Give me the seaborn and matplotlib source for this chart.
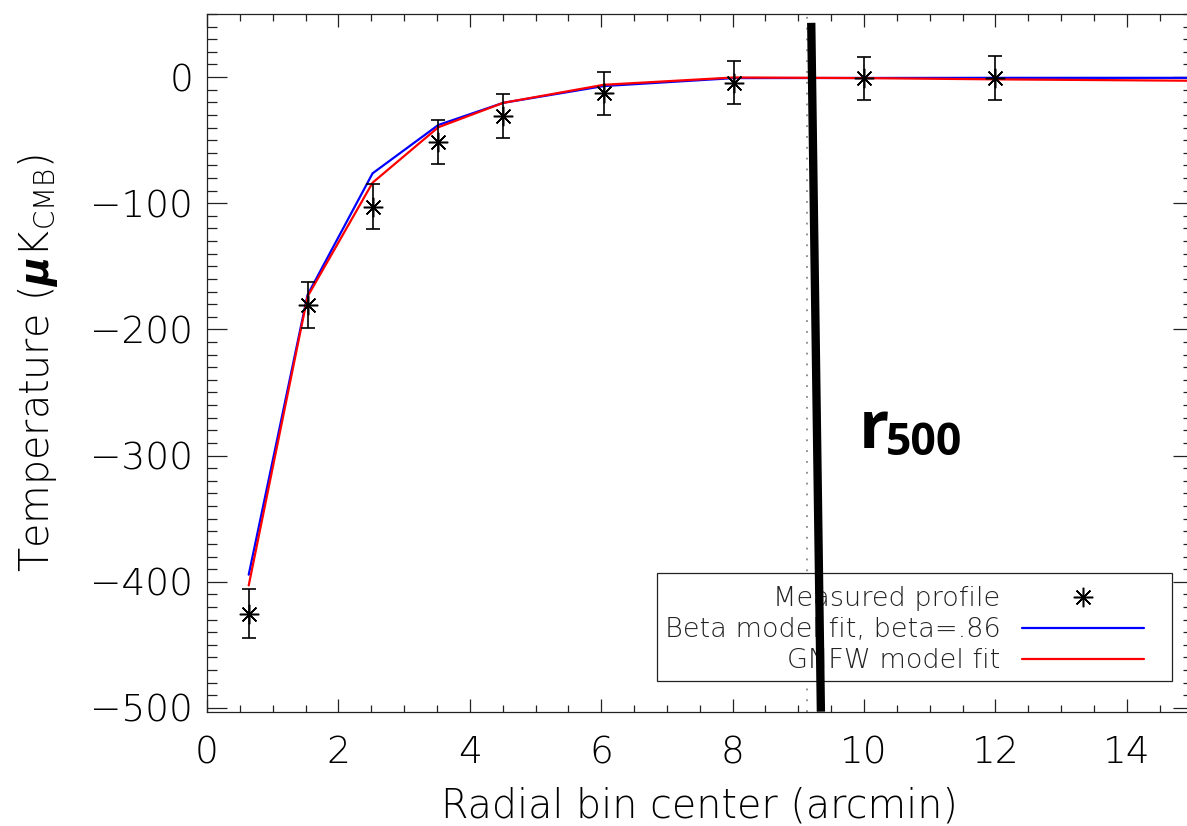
import numpy as np
import pandas as pd
import matplotlib
matplotlib.use("Agg")
import matplotlib.pyplot as plt
from matplotlib.lines import Line2D
from matplotlib.patches import Rectangle
from matplotlib.ticker import MultipleLocator
import seaborn as sns

# Measured radial temperature profile (arcmin, uK_CMB)
r_bin = [0.635, 1.53, 2.52, 3.52, 4.51, 6.04, 8.02, 10.0, 12.0]
temp_measured = [-425.3, -180.6, -102.7, -51.2, -30.9, -12.9, -4.5, -1.0, -0.5]
temp_err = [19.3, 18.0, 18.0, 17.3, 17.4, 17.0, 17.0, 17.0, 17.4]

# Model fits evaluated at the bin centers, continued to the plot edge
r_fit = [0.635, 1.53, 2.52, 3.52, 4.51, 6.04, 8.02, 10.0, 12.0, 15.0]
beta_fit = [-394.4, -172.7, -76.3, -38.0, -20.4, -7.1, -0.8, -0.7, -0.6, -0.6]
gnfw_fit = [-402.9, -174.0, -83.7, -39.8, -20.4, -6.1, -0.3, -0.8, -1.8, -2.9]

# r500 marker (thick line) and the dotted reference radius
r500_x = [9.197, 9.344]
r500_y = [43.0, -503.0]
r_dotted = 9.13

labels = ["Measured profile", "Beta model fit, beta=.86", "GNFW model fit"]

sns.set_theme(style="ticks")
plt.rcParams["font.family"] = ["DejaVu Sans"]
plt.rcParams["font.weight"] = "light"
plt.rcParams["axes.labelweight"] = "light"
plt.rcParams["text.color"] = "black"
plt.rcParams["axes.labelcolor"] = "black"
plt.rcParams["xtick.labelcolor"] = "black"
plt.rcParams["ytick.labelcolor"] = "black"
plt.rcParams["mathtext.fontset"] = "custom"
plt.rcParams["mathtext.rm"] = "DejaVu Sans:light"
plt.rcParams["mathtext.it"] = "DejaVu Sans:italic:bold"
plt.rcParams["mathtext.bf"] = "DejaVu Sans:bold"

W, H = 1187, 826
fig = plt.figure(figsize=(W / 100, H / 100), dpi=100)
ax = fig.add_axes([207 / W, (H - 711.7) / H, 985.5 / W, 697.7 / H])

fits = pd.DataFrame({"r": r_fit, "beta": beta_fit, "gnfw": gnfw_fit})
sns.lineplot(data=fits, x="r", y="beta", color="#0000ff", lw=1.6, sort=False,
             estimator=None, ax=ax, zorder=3, legend=False)
sns.lineplot(data=fits, x="r", y="gnfw", color="#ff0000", lw=1.6, sort=False,
             estimator=None, ax=ax, zorder=3.1, legend=False)

star = (8, 2, 0)
ax.errorbar(r_bin, temp_measured, yerr=temp_err, fmt="none", ecolor="black",
            elinewidth=1.2, capsize=4.7, capthick=1.2, zorder=4)
ax.plot(r_bin, temp_measured, ls="none", marker=star, ms=14, mew=1.1,
        color="black", zorder=4.1)

ax.axvline(r_dotted, color="#888888", ls=(0, (1, 5)), lw=1.3, zorder=1.5)
ax.plot(r500_x, r500_y, color="black", lw=6, solid_capstyle="butt", zorder=6)

ax.text(9.918, -294.1, "r", fontsize=48, fontweight="bold", color="black",
        family="Open Sans", ha="left", va="baseline", zorder=6)
ax.text(10.34, -299.4, "500", fontsize=32, fontweight="bold", color="black",
        family="Open Sans", ha="left", va="baseline", zorder=6)

ax.set_xlim(0, 15)
ax.set_ylim(-503, 50)
ax.xaxis.set_major_locator(MultipleLocator(2))
ax.xaxis.set_minor_locator(MultipleLocator(0.5))
ax.yaxis.set_major_locator(MultipleLocator(100))
ax.yaxis.set_minor_locator(MultipleLocator(10))

ax.tick_params(axis="both", which="both", direction="in", top=True, right=True,
               color="#222222", width=0.9, labelcolor="black")
ax.tick_params(axis="x", which="major", length=9.4, pad=17, labelsize=27)
ax.tick_params(axis="x", which="minor", length=5)
ax.tick_params(axis="y", which="major", length=14.4, pad=10, labelsize=27)
ax.tick_params(axis="y", which="minor", length=7.2)
for s in ax.spines.values():
    s.set_color("#222222")
    s.set_linewidth(0.9)

ax.set_xlabel("Radial bin center (arcmin)", fontsize=28.5, labelpad=11.5)
ax.set_ylabel(r"Temperature ($\mu$K$_{\rm CMB}$)", fontsize=28.5, labelpad=22)

# Legend box with labels on the left and symbols on the right
frame = Rectangle((0.4566, 0.044), 0.5226, 0.1548, transform=ax.transAxes,
                  facecolor="white", edgecolor="#222222", lw=0.9, zorder=5)
ax.add_patch(frame)
handles = [
    Line2D([], [], ls="none", marker=star, ms=14, mew=1.1, color="black"),
    Line2D([], [], color="#0000ff", lw=1.6),
    Line2D([], [], color="#ff0000", lw=1.6),
]
leg = ax.legend(handles, labels, loc="upper right", bbox_to_anchor=(0.9508, 0.180),
                frameon=False, markerfirst=False, handlelength=4.5,
                handletextpad=0.8, labelspacing=0.22, borderpad=0,
                borderaxespad=0, fontsize=19.5)
leg.set_zorder(5.5)
for t in leg.get_texts():
    t.set_color("#222222")

fig.savefig("out.png", dpi=100)
